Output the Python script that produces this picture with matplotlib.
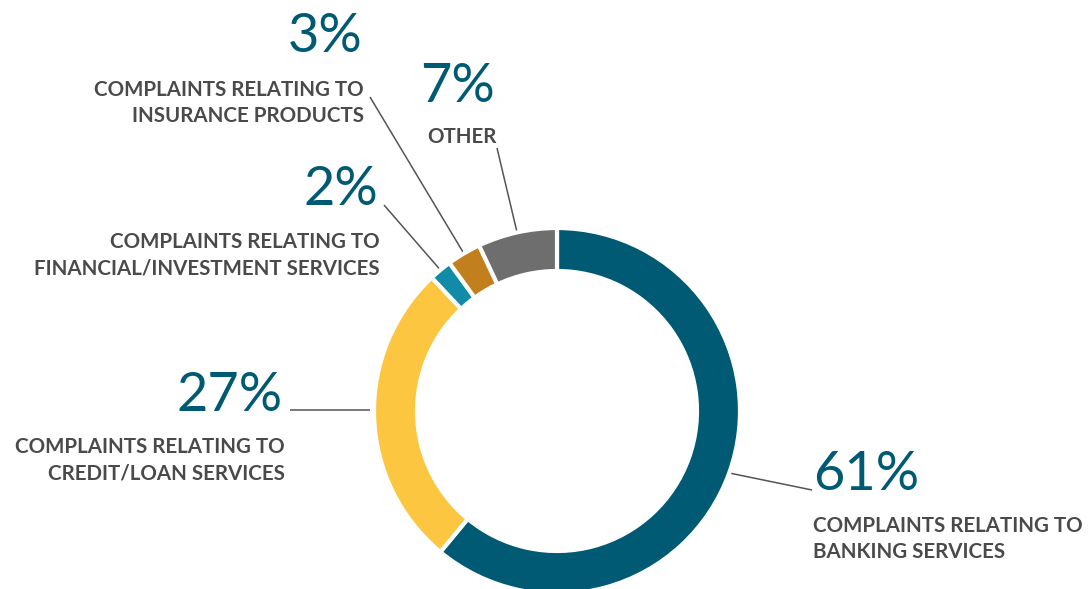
import matplotlib
matplotlib.use("Agg")
import matplotlib.pyplot as plt
import numpy as np

# Complaint categories (clockwise from 12 o'clock)
categories = [
    "COMPLAINTS RELATING TO\nBANKING SERVICES",
    "COMPLAINTS RELATING TO\nCREDIT/LOAN SERVICES",
    "COMPLAINTS RELATING TO\nFINANCIAL/INVESTMENT SERVICES",
    "COMPLAINTS RELATING TO\nINSURANCE PRODUCTS",
    "OTHER",
]
shares = [61, 27, 2, 3, 7]
pct_labels = ["61%", "27%", "2%", "3%", "7%"]
colors = ["#005A73", "#FCC641", "#128BA9", "#C1801D", "#6E6E6E"]

W, H = 1088, 589
fig = plt.figure(figsize=(W / 100, H / 100), dpi=100)
ax = fig.add_axes([0, 0, 1, 1])

cx, cy, R, ring = 557, H - 411, 183, 43
wedges, _ = ax.pie(
    shares, colors=colors, startangle=90, counterclock=False,
    center=(cx, cy), radius=R,
    wedgeprops=dict(width=ring, edgecolor="white", linewidth=3),
)
ax.set_xlim(0, W)
ax.set_ylim(0, H)
ax.set_aspect("equal")
ax.axis("off")

num_color = "#005A73"
lab_color = "#4A4A4A"
line_color = "#555555"

# text anchors in pixel space measured from the top edge: (x, y_pct_baseline, y_label_top, ha)
layout = [
    (813, 490, 516, "left"),
    (283, 411, 437, "right"),
    (378, 205, 232, "right"),
    (362, 52, 80, "right"),
    (495, 102, 127, "right"),
]
# leader line end points (pixel space, top origin); True = run the leader horizontally
leader_ends = [(812, 490, False), (290, 410, True), (384, 205, False),
               (370, 97, False), (497, 148, False)]


def Y(y):
    return H - y


for w, (x, yb, yl, ha), lab, pct, (ex, ey, flat) in zip(
        wedges, layout, categories, pct_labels, leader_ends):
    ax.text(x, Y(yb), pct, ha=ha, va="baseline", fontsize=39,
            color=num_color, family="Lato", fontweight="normal")
    ax.text(x + (2 if ha == "right" else 0), Y(yl), lab, ha=ha, va="top", fontsize=14.8,
            color=lab_color, family="Lato", fontweight="bold", linespacing=1.38,
            multialignment=ha)
    if flat:
        dy = Y(ey) - cy
        sx = cx - np.sqrt(R ** 2 - dy ** 2) - 4
        sy = Y(ey)
    else:
        mid = np.deg2rad((w.theta1 + w.theta2) / 2)
        sx, sy = cx + R * np.cos(mid), cy + R * np.sin(mid)
    ax.plot([sx, ex], [sy, Y(ey)], color=line_color, lw=1.1,
            solid_capstyle="butt", zorder=0)

fig.savefig("out.png", dpi=100, facecolor="white")
